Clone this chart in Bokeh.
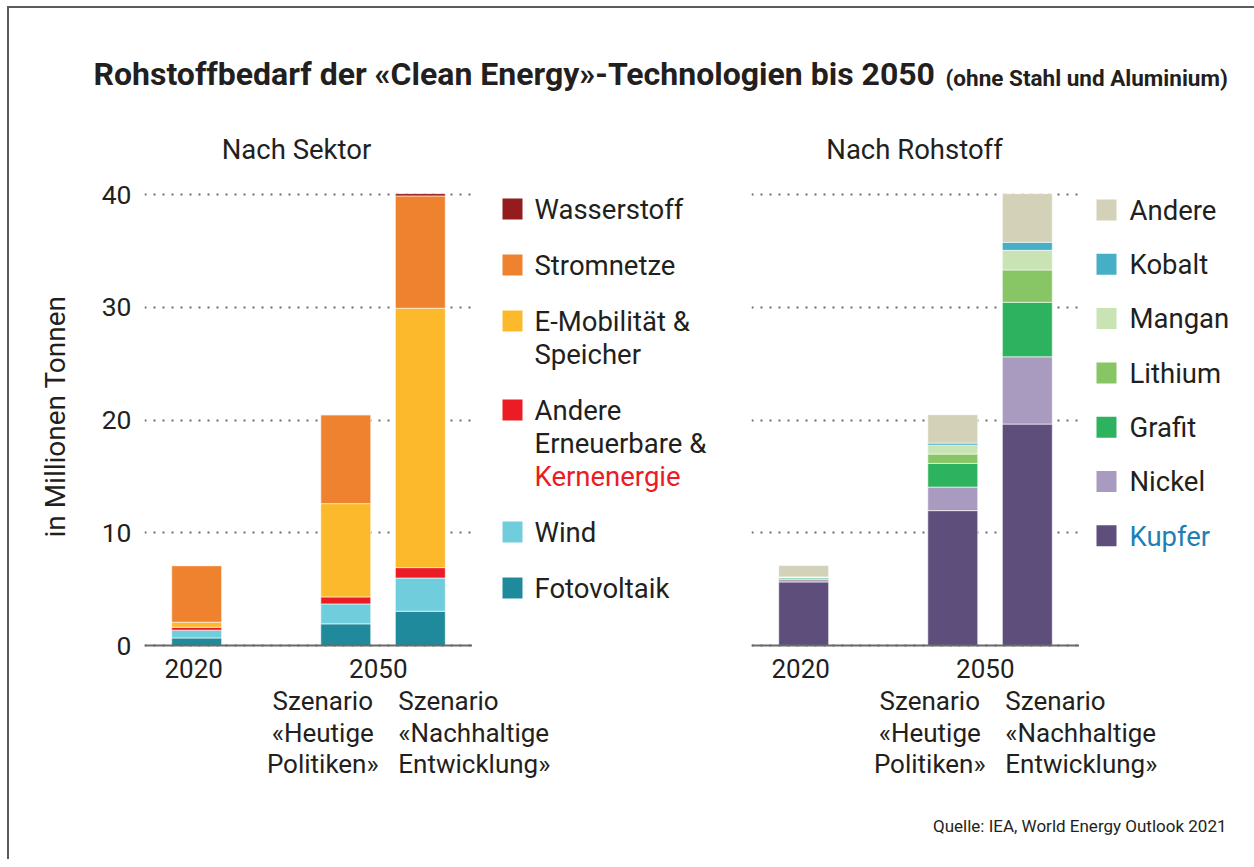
import math
from bokeh.plotting import figure
from bokeh.models import Range1d, FactorRange, ColumnDataSource, SingleIntervalTicker, Grid, Span
from bokeh.layouts import row, column
from bokeh.embed import file_html
from bokeh.resources import INLINE
from bokeh.core.properties import value

# ---------------- data ----------------
slots = ["2020", "gap", "Heutige Politiken", "Nachhaltige Entwicklung"]
bars = ["2020", "Heutige Politiken", "Nachhaltige Entwicklung"]

# Nach Sektor (Mio. t), stacked bottom -> top
fotovoltaik = [0.67, 1.92, 3.04]
wind = [0.69, 1.77, 2.95]
andere_ee = [0.26, 0.62, 0.92]
e_mobilitaet = [0.45, 8.28, 23.02]
stromnetze = [5.02, 7.89, 9.97]
wasserstoff = [0.00, 0.00, 0.20]

sector_keys = ["fotovoltaik", "wind", "andere_ee", "e_mobilitaet", "stromnetze", "wasserstoff"]
sector_colors = ["#1f8a9b", "#70cddb", "#ec1c24", "#fbb92b", "#ee822f", "#941b1e"]
sector_legend = [["Wasserstoff"], ["Stromnetze"], ["E-Mobilität &", "Speicher"],
                 ["Andere", "Erneuerbare &", "Kernenergie"], ["Wind"], ["Fotovoltaik"]]
sector_legend_colors = ["#941b1e", "#ee822f", "#fbb92b", "#ec1c24", "#70cddb", "#1f8a9b"]

# Nach Rohstoff (Mio. t), stacked bottom -> top
kupfer = [5.64, 11.97, 19.65]
nickel = [0.21, 2.09, 5.97]
grafit = [0.14, 2.10, 4.84]
lithium = [0.04, 0.83, 2.87]
mangan = [0.05, 0.79, 1.74]
kobalt = [0.01, 0.18, 0.71]
andere = [1.00, 2.52, 4.32]

mineral_keys = ["kupfer", "nickel", "grafit", "lithium", "mangan", "kobalt", "andere"]
mineral_colors = ["#5e4e7b", "#a99abf", "#2db35f", "#88c665", "#c9e3b4", "#46afc6", "#d4d1b9"]
mineral_legend = [["Andere"], ["Kobalt"], ["Mangan"], ["Lithium"], ["Grafit"], ["Nickel"], ["Kupfer"]]
mineral_legend_colors = ["#d4d1b9", "#46afc6", "#c9e3b4", "#88c665", "#2db35f", "#a99abf", "#5e4e7b"]

# year texts under the bars
year_text = ["2020", "2050"]
year_anchor = ["2020", "Nachhaltige Entwicklung"]
# scenario texts under the years
scen_text = ["Szenario", "«Heutige", "Politiken»", "Szenario", "«Nachhaltige", "Entwicklung»"]
scen_anchor = ["Heutige Politiken"] * 3 + ["Nachhaltige Entwicklung"] * 3

y_ticks_interval = 10
y_title = "in Millionen Tonnen"
TXT = "#231f20"
FONT = "Roboto"

# ---------------- layout constants (window pixels) ----------------
OX, OY = 9, 8           # content origin after the frame border
ROW_TOP = 170           # top of the bar row
FRAME_TOP = 183         # top of the plot frames
ZERO_PX = 645           # pixel row of y = 0
FRAME_BOTTOM = 685      # bottom of the plot frames (room for the year texts)
STRIP_BOTTOM = 790
FOOT_BOTTOM = 859
Y_MAX = 41
PX = (ZERO_PX - FRAME_TOP) / Y_MAX
Y_MIN = -(FRAME_BOTTOM - ZERO_PX) / PX
UNIT = 328 / 4.4        # pixels per category slot
YLAB_W = 72


def mid(baseline, fs):
    """visual centre of capitals for a given baseline (text drawn with 'middle')"""
    return baseline - 0.355 * fs


def blank_fig(w, h, x0, y0, top_border=0):
    p = figure(width=w, height=h, x_range=Range1d(x0, x0 + w),
               y_range=Range1d(y0 + h, y0 + top_border),
               min_border=0, min_border_top=top_border,
               x_axis_location=None, y_axis_location=None,
               toolbar_location=None, output_backend="svg", outline_line_color=None)
    p.grid.visible = False
    return p


def bar_fig(w, left_border, show_y):
    p = figure(width=w, height=FRAME_BOTTOM - ROW_TOP,
               x_range=FactorRange(factors=slots, range_padding=0.2, range_padding_units="absolute"),
               y_range=Range1d(Y_MIN, Y_MAX),
               min_border_left=left_border, min_border_right=0,
               min_border_top=FRAME_TOP - ROW_TOP, min_border_bottom=0,
               x_axis_location=None, y_axis_location="left" if show_y else None,
               toolbar_location=None, output_backend="svg", outline_line_color=None)
    if len(p.ygrid) == 0:
        p.add_layout(Grid(dimension=1, ticker=SingleIntervalTicker(interval=y_ticks_interval)))
    g = p.ygrid[0]
    g.ticker = SingleIntervalTicker(interval=y_ticks_interval)
    g.grid_line_color = "#6d6d6d"
    g.grid_line_dash = "2 7"
    g.grid_line_width = 2
    for xg in p.xgrid:
        xg.visible = False
    # base line (x axis line at y = 0)
    p.add_layout(Span(location=0, dimension="width", line_color="#6b6b6b", line_width=2))
    if show_y:
        ya = p.yaxis[0]
        ya.ticker = SingleIntervalTicker(interval=y_ticks_interval)
        ya.axis_line_color = None
        ya.major_tick_line_color = None
        ya.minor_tick_line_color = None
        ya.major_label_text_font = FONT
        ya.major_label_text_font_size = "26.5px"
        ya.major_label_text_color = TXT
        ya.major_label_standoff = 7
    # year texts
    ysrc = ColumnDataSource(dict(x=year_anchor, t=year_text, dx=[-3, -42],
                                 y=[-(mid(677, 26) - ZERO_PX) / PX] * 2))
    p.text(x="x", y="y", text="t", x_offset="dx", source=ysrc, text_align="center",
           text_baseline="middle", text_font=value(FONT), text_font_size="26px", text_color=TXT)
    return p


def strip_fig(w, left_border):
    p = figure(width=w, height=STRIP_BOTTOM - FRAME_BOTTOM,
               x_range=Range1d(-0.2, -0.2 + (w - left_border) / UNIT),
               y_range=Range1d(STRIP_BOTTOM, FRAME_BOTTOM),
               min_border=0, min_border_left=left_border, min_border_right=0,
               x_axis_location=None, y_axis_location=None,
               toolbar_location=None, output_backend="svg", outline_line_color=None)
    p.grid.visible = False
    xs = [slots.index(a) + 0.5 for a in scen_anchor]
    ys = [mid(710 + 31.5 * (i % 3), 26) for i in range(len(scen_text))]
    dx = [-23, -23, -23, -22, -22, -22]
    al = ["center"] * 3 + ["left"] * 3
    src = ColumnDataSource(dict(x=xs, y=ys, t=scen_text, dx=dx, al=al))
    p.text(x="x", y="y", text="t", x_offset="dx", text_align="al", source=src,
           text_font=value(FONT), text_font_size="26px", text_color=TXT,
           text_baseline="middle")
    return p


def legend_fig(w, x0, items, colors, text_colors, top0, pitch, line_pitch, sq_left, sq_size, text_x):
    p = blank_fig(w, FRAME_BOTTOM - ROW_TOP, x0, ROW_TOP, top_border=FRAME_TOP - ROW_TOP)
    sx, sy, sc = [], [], []
    tx, ty, tt, tc = [], [], [], []
    extra = 0
    for i, (lines, col) in enumerate(zip(items, colors)):
        top = top0 + pitch * i + line_pitch * extra
        sx.append(sq_left + sq_size / 2)
        sy.append(top + sq_size / 2 + 0.5)
        sc.append(col)
        for j, ln in enumerate(lines):
            tx.append(text_x)
            ty.append(mid(top + 20.5 + line_pitch * j, 27.5))
            tt.append(ln)
            tc.append(text_colors.get(ln, TXT))
        extra += len(lines) - 1
    p.rect(x="x", y="y", width=sq_size, height=sq_size + 1, fill_color="c", line_color=None,
           source=ColumnDataSource(dict(x=sx, y=sy, c=sc)))
    p.text(x="x", y="y", text="t", text_color="c", text_font=value(FONT), text_font_size="27.5px",
           text_baseline="middle", text_align="left",
           source=ColumnDataSource(dict(x=tx, y=ty, t=tt, c=tc)))
    return p


# ---------------- header ----------------
header = blank_fig(1245, ROW_TOP - OY, OX, OY)
header.text(x=[93], y=[mid(85, 32)], text=["Rohstoffbedarf der «Clean Energy»-Technologien bis 2050"],
            text_font=value(FONT), text_font_style="bold", text_font_size="32px",
            text_color=TXT, text_baseline="middle", text_align="left")
header.text(x=[945], y=[mid(85, 22.5)], text=["(ohne Stahl und Aluminium)"],
            text_font=value(FONT), text_font_style="bold", text_font_size="22.5px",
            text_color=TXT, text_baseline="middle", text_align="left")
header.text(x=[296, 914], y=[mid(159, 27.5)] * 2, text=["Nach Sektor", "Nach Rohstoff"],
            text_font=value(FONT), text_font_size="27.5px",
            text_color=TXT, text_baseline="middle", text_align="center")

# ---------------- y title (rotated) ----------------
ylab = blank_fig(YLAB_W, FRAME_BOTTOM - ROW_TOP, OX, ROW_TOP, top_border=FRAME_TOP - ROW_TOP)
ylab.text(x=[mid(65, 28)], y=[416], text=[y_title], angle=math.pi / 2,
          text_font=value(FONT), text_font_size="28px", text_color=TXT,
          text_baseline="middle", text_align="center")

# ---------------- left panel ----------------
pL = bar_fig(463 - YLAB_W, 135 - YLAB_W, True)
srcL = ColumnDataSource(dict(cat=bars, fotovoltaik=fotovoltaik, wind=wind, andere_ee=andere_ee,
                             e_mobilitaet=e_mobilitaet, stromnetze=stromnetze, wasserstoff=wasserstoff))
pL.vbar_stack(sector_keys, x="cat", width=0.67, color=sector_colors, source=srcL,
              line_color="white", line_width=0.6)
legL = legend_fig(257, 472, sector_legend, sector_legend_colors, {"Kernenergie": "#ec1c24"},
                  198, 56, 33, 502, 20, 534)
stripL = strip_fig(720, 135)

# ---------------- right panel ----------------
pR = bar_fig(350, 22, False)
srcR = ColumnDataSource(dict(cat=bars, kupfer=kupfer, nickel=nickel, grafit=grafit, lithium=lithium,
                             mangan=mangan, kobalt=kobalt, andere=andere))
pR.vbar_stack(mineral_keys, x="cat", width=0.67, color=mineral_colors, source=srcR,
              line_color="white", line_width=0.6)
legR = legend_fig(175, 1079, mineral_legend, mineral_legend_colors, {"Kupfer": "#1f7fb5"},
                  199, 54.3, 33, 1096, 20, 1129)
stripR = strip_fig(525, 22)

# ---------------- footer ----------------
footer = blank_fig(1245, FOOT_BOTTOM - STRIP_BOTTOM, OX, STRIP_BOTTOM)
footer.text(x=[1226], y=[mid(832, 17)], text=["Quelle: IEA, World Energy Outlook 2021"],
            text_font=value(FONT), text_font_size="17px", text_color=TXT,
            text_baseline="middle", text_align="right")

layout = column(header, row(ylab, pL, legL, pR, legR), row(stripL, stripR), footer,
                styles={"margin-left": "7px", "margin-top": "6px",
                        "border-left": "2px solid #5c5c5c", "border-top": "2px solid #5c5c5c"})

open("out.html", "w").write(file_html(layout, INLINE))
